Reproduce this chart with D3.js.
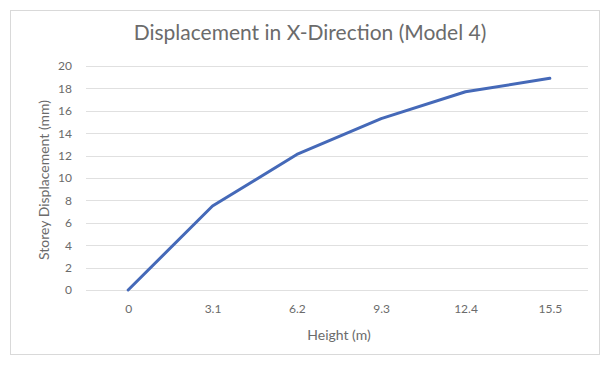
<!DOCTYPE html>
<html>
<head>
<meta charset="utf-8">
<script src="https://cdn.jsdelivr.net/npm/d3@7"></script>
<style>
  html, body { margin: 0; padding: 0; background: #fff; }
  svg { display: block; }
  text { font-family: Lato, "Open Sans", sans-serif; fill: #6b6b6b; }
</style>
</head>
<body>
<svg id="chart" width="610" height="365"></svg>
<script>
// Storey heights (m) and displacement in X direction (mm)
const heights = ["0", "3.1", "6.2", "9.3", "12.4", "15.5"];
const displacement = [0, 7.5, 12.1, 15.3, 17.7, 18.9];
const yTicks = [0, 2, 4, 6, 8, 10, 12, 14, 16, 18, 20];

const svg = d3.select("#chart");

// chart area frame
svg.append("rect")
  .attr("x", 10.5).attr("y", 10.5)
  .attr("width", 589).attr("height", 344)
  .attr("fill", "#fff").attr("stroke", "#d9d9d9").attr("stroke-width", 1);

const plot = { left: 86, right: 592, top: 66, bottom: 290 };

const x = d3.scalePoint()
  .domain(heights)
  .range([plot.left, plot.right])
  .padding(0.5);

const y = d3.scaleLinear()
  .domain([0, 20])
  .range([plot.bottom, plot.top]);

// horizontal gridlines
svg.append("g")
  .selectAll("line")
  .data(yTicks)
  .join("line")
  .attr("x1", plot.left).attr("x2", plot.right - 4)
  .attr("y1", d => Math.round(y(d)) + 0.5)
  .attr("y2", d => Math.round(y(d)) + 0.5)
  .attr("stroke", "#e0e0e0").attr("stroke-width", 1);

const tickStyle = g => g.selectAll("text")
  .style("font-family", "Lato, 'Open Sans', sans-serif")
  .style("font-size", "12px")
  .attr("fill", "#6b6b6b");

// y axis labels
svg.append("g")
  .attr("transform", `translate(${plot.left - 14},0)`)
  .call(d3.axisLeft(y).tickValues(yTicks).tickSize(0).tickPadding(0))
  .call(g => g.select(".domain").remove())
  .call(tickStyle);

// x axis labels
svg.append("g")
  .attr("transform", `translate(0,${plot.bottom + 14})`)
  .call(d3.axisBottom(x).tickSize(0).tickPadding(0))
  .call(g => g.select(".domain").remove())
  .call(tickStyle);

// series line
const line = d3.line()
  .x((d, i) => x(heights[i]))
  .y(d => y(d));

svg.append("path")
  .datum(displacement)
  .attr("d", line)
  .attr("fill", "none")
  .attr("stroke", "#4569B8")
  .attr("stroke-width", 3)
  .attr("stroke-linejoin", "round")
  .attr("stroke-linecap", "round");

// titles
svg.append("text")
  .attr("x", 310).attr("y", 40)
  .attr("text-anchor", "middle")
  .style("font-size", "21px")
  .attr("fill", "#6f6f6f")
  .text("Displacement in X-Direction (Model 4)");

svg.append("text")
  .attr("x", 339).attr("y", 340)
  .attr("text-anchor", "middle")
  .style("font-size", "14px")
  .text("Height (m)");

svg.append("text")
  .attr("transform", `translate(49,180) rotate(-90)`)
  .attr("text-anchor", "middle")
  .style("font-size", "14px")
  .text("Storey Displacement (mm)");
</script>
</body>
</html>
